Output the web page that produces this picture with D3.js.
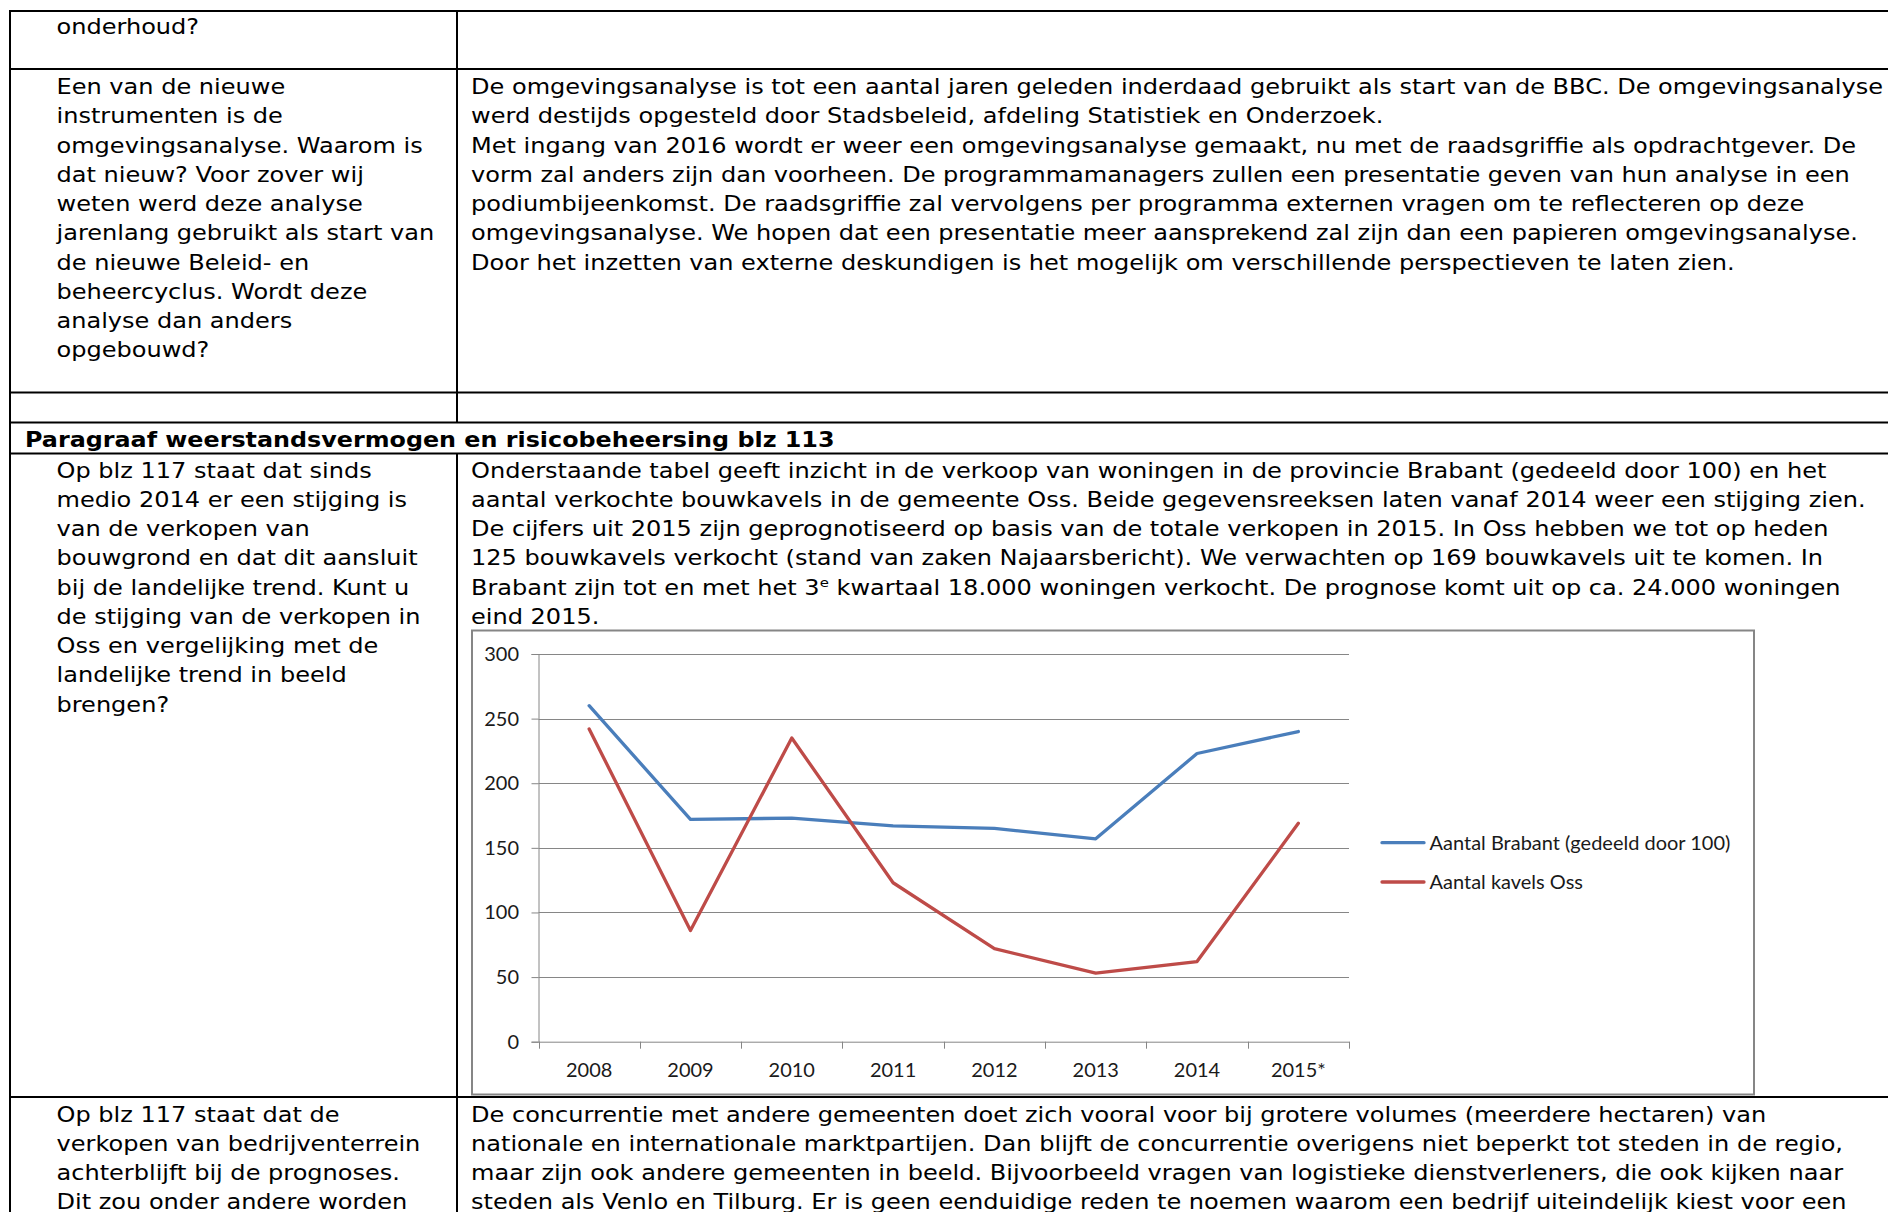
<!DOCTYPE html>
<html>
<head>
<meta charset="utf-8">
<script src="https://cdn.jsdelivr.net/npm/d3@7"></script>
<style>
  html, body { margin: 0; padding: 0; background: #fff; }
  svg { display: block; }
</style>
</head>
<body>
<svg id="page" width="1888" height="1212"></svg>
<script>
// ---------------- DATA ----------------
const years = ["2008", "2009", "2010", "2011", "2012", "2013", "2014", "2015*"];
const brabant = [260, 172, 173, 167, 165, 157, 223, 240];
const oss = [242, 86, 235, 123, 72, 53, 62, 169];
const seriesNames = ["Aantal Brabant (gedeeld door 100)", "Aantal kavels Oss"];
const yTicks = [0, 50, 100, 150, 200, 250, 300];

const row1Left = ["onderhoud?"];
const row2Left = ["Een van de nieuwe", "instrumenten is de", "omgevingsanalyse. Waarom is",
  "dat nieuw? Voor zover wij", "weten werd deze analyse", "jarenlang gebruikt als start van",
  "de nieuwe Beleid- en", "beheercyclus. Wordt deze", "analyse dan anders", "opgebouwd?"];
const row2Right = [
  "De omgevingsanalyse is tot een aantal jaren geleden inderdaad gebruikt als start van de BBC. De omgevingsanalyse",
  "werd destijds opgesteld door Stadsbeleid, afdeling Statistiek en Onderzoek.",
  "Met ingang van 2016 wordt er weer een omgevingsanalyse gemaakt, nu met de raadsgriffie als opdrachtgever. De",
  "vorm zal anders zijn dan voorheen. De programmamanagers zullen een presentatie geven van hun analyse in een",
  "podiumbijeenkomst. De raadsgriffie zal vervolgens per programma externen vragen om te reflecteren op deze",
  "omgevingsanalyse. We hopen dat een presentatie meer aansprekend zal zijn dan een papieren omgevingsanalyse.",
  "Door het inzetten van externe deskundigen is het mogelijk om verschillende perspectieven te laten zien."];
const headerText = "Paragraaf weerstandsvermogen en risicobeheersing blz 113";
const row5Left = ["Op blz 117 staat dat sinds", "medio 2014 er een stijging is", "van de verkopen van",
  "bouwgrond en dat dit aansluit", "bij de landelijke trend. Kunt u", "de stijging van de verkopen in",
  "Oss en vergelijking met de", "landelijke trend in beeld", "brengen?"];
const row5Right = [
  "Onderstaande tabel geeft inzicht in de verkoop van woningen in de provincie Brabant (gedeeld door 100) en het",
  "aantal verkochte bouwkavels in de gemeente Oss. Beide gegevensreeksen laten vanaf 2014 weer een stijging zien.",
  "De cijfers uit 2015 zijn geprognotiseerd op basis van de totale verkopen in 2015. In Oss hebben we tot op heden",
  "125 bouwkavels verkocht (stand van zaken Najaarsbericht). We verwachten op 169 bouwkavels uit te komen. In",
  ["Brabant zijn tot en met het 3", "e", " kwartaal 18.000 woningen verkocht. De prognose komt uit op ca. 24.000 woningen"],
  "eind 2015."];
const row6Left = ["Op blz 117 staat dat de", "verkopen van bedrijventerrein", "achterblijft bij de prognoses.",
  "Dit zou onder andere worden"];
const row6Right = [
  "De concurrentie met andere gemeenten doet zich vooral voor bij grotere volumes (meerdere hectaren) van",
  "nationale en internationale marktpartijen. Dan blijft de concurrentie overigens niet beperkt tot steden in de regio,",
  "maar zijn ook andere gemeenten in beeld. Bijvoorbeeld vragen van logistieke dienstverleners, die ook kijken naar",
  "steden als Venlo en Tilburg. Er is geen eenduidige reden te noemen waarom een bedrijf uiteindelijk kiest voor een"];

// ---------------- LAYOUT ----------------
const svg = d3.select("#page");
svg.append("rect").attr("width", 1888).attr("height", 1212).attr("fill", "#fff");

const docFont = "'DejaVu Sans', Verdana, sans-serif";
const docSize = 20.5;
const lineH = 29.25;

function measure(str, font, size, weight) {
  const t = svg.append("text").attr("font-family", font).attr("font-size", size)
    .attr("font-weight", weight || "normal").text(str);
  const w = t.node().getComputedTextLength();
  t.remove();
  return w;
}
const sxNorm = 1413 / measure(row2Right[0], docFont, docSize);
const sxBold = 810 / measure(headerText, docFont, docSize, "bold");

const gText = svg.append("g").attr("fill", "#000");
function docLine(str, x, y, bold) {
  const t = gText.append("text")
    .attr("transform", `translate(${x},${y}) scale(${bold ? sxBold : sxNorm},1)`)
    .attr("font-family", docFont).attr("font-size", docSize)
    .attr("font-weight", bold ? "bold" : "normal");
  if (Array.isArray(str)) {
    t.append("tspan").text(str[0]);
    t.append("tspan").attr("font-size", docSize * 0.62).attr("dy", -8).text(str[1]);
    t.append("tspan").attr("dy", 8).text(str[2]);
  } else {
    t.text(str);
  }
}
function block(lines, x, y0) {
  lines.forEach((s, i) => docLine(s, x, y0 + i * lineH));
}

const xL = 56.5, xR = 471;
block(row1Left, xL, 34);
block(row2Left, xL, 94);
block(row2Right, xR, 94);
docLine(headerText, 25, 447, true);
block(row5Left, xL, 477.5);
block(row5Right, xR, 477.5);
block(row6Left, xL, 1121.5);
block(row6Right, xR, 1121.5);

// table rules
const gT = svg.append("g").attr("stroke", "#000").attr("stroke-width", 2);
[11, 69, 392.5, 422.5, 453.5, 1097].forEach(y =>
  gT.append("line").attr("x1", 9).attr("x2", 1888).attr("y1", y).attr("y2", y));
gT.append("line").attr("x1", 10).attr("x2", 10).attr("y1", 10).attr("y2", 1212);
gT.append("line").attr("x1", 457).attr("x2", 457).attr("y1", 10).attr("y2", 422.5);
gT.append("line").attr("x1", 457).attr("x2", 457).attr("y1", 453.5).attr("y2", 1212);

// ---------------- CHART ----------------
const chartFont = "Lato, 'Open Sans', sans-serif";
const chartSize = 18.5;
const sxChart = 301 / measure(seriesNames[0], chartFont, chartSize);

svg.append("rect").attr("x", 472).attr("y", 630.5).attr("width", 1282).attr("height", 464)
  .attr("fill", "#fff").attr("stroke", "#868686").attr("stroke-width", 2);

const plotL = 538.5, plotR = 1349, plotT = 654, plotB = 1041.7;
const x = d3.scaleBand().domain(years).range([plotL, plotR]).padding(0);
const y = d3.scaleLinear().domain([0, 300]).range([plotB, plotT]);
const grid = "#868686";

// gridlines
svg.append("g").selectAll("line").data(yTicks.filter(d => d > 0)).join("line")
  .attr("x1", plotL).attr("x2", plotR)
  .attr("y1", d => Math.round(y(d)) + 0.5).attr("y2", d => Math.round(y(d)) + 0.5)
  .attr("stroke", grid).attr("stroke-width", 1);

// y axis
const yAxis = svg.append("g").attr("transform", `translate(${plotL},0)`)
  .call(d3.axisLeft(y).tickValues(yTicks).tickSize(7).tickPadding(12.5));
yAxis.select(".domain").attr("stroke", grid);
yAxis.selectAll(".tick line").attr("stroke", grid);
yAxis.selectAll(".tick text").remove();
yAxis.selectAll(".tick").append("text")
  .attr("transform", `translate(-19.5,6.5) scale(${sxChart},1)`)
  .attr("text-anchor", "end").attr("fill", "#1a1a1a")
  .attr("font-family", chartFont).attr("font-size", chartSize)
  .text(d => d);

// x axis
const xAxis = svg.append("g").attr("transform", `translate(0,${plotB})`)
  .call(d3.axisBottom(x).tickSize(0).tickPadding(0));
xAxis.select(".domain").attr("stroke", grid);
xAxis.selectAll(".tick text").remove();
xAxis.selectAll(".tick").append("text")
  .attr("transform", `translate(0,35.5) scale(${sxChart},1)`)
  .attr("text-anchor", "middle").attr("fill", "#1a1a1a")
  .attr("font-family", chartFont).attr("font-size", chartSize)
  .text(d => d);
// category boundary ticks
const bounds = years.map(d => x(d)).concat([x(years[years.length - 1]) + x.bandwidth()]);
xAxis.selectAll("line.bt").data(bounds).join("line").attr("class", "bt")
  .attr("x1", d => Math.round(d) + 0.5).attr("x2", d => Math.round(d) + 0.5)
  .attr("y1", 0).attr("y2", 7).attr("stroke", grid);

// series lines
const line = d3.line().x((d, i) => x(years[i]) + x.bandwidth() / 2).y(d => y(d));
const colors = ["#4A7EBB", "#BE4B48"];
[brabant, oss].forEach((s, k) => {
  svg.append("path").datum(s).attr("d", line).attr("fill", "none")
    .attr("stroke", colors[k]).attr("stroke-width", 3.3)
    .attr("stroke-linejoin", "round").attr("stroke-linecap", "round");
});

// legend
const legY = [842.7, 882];
seriesNames.forEach((name, k) => {
  svg.append("line").attr("x1", 1382).attr("x2", 1424).attr("y1", legY[k]).attr("y2", legY[k])
    .attr("stroke", colors[k]).attr("stroke-width", 3.3).attr("stroke-linecap", "round");
  svg.append("text")
    .attr("transform", `translate(1429.5,${legY[k] + 7}) scale(${sxChart},1)`)
    .attr("fill", "#1a1a1a").attr("font-family", chartFont).attr("font-size", chartSize)
    .text(name);
});
</script>
</body>
</html>
